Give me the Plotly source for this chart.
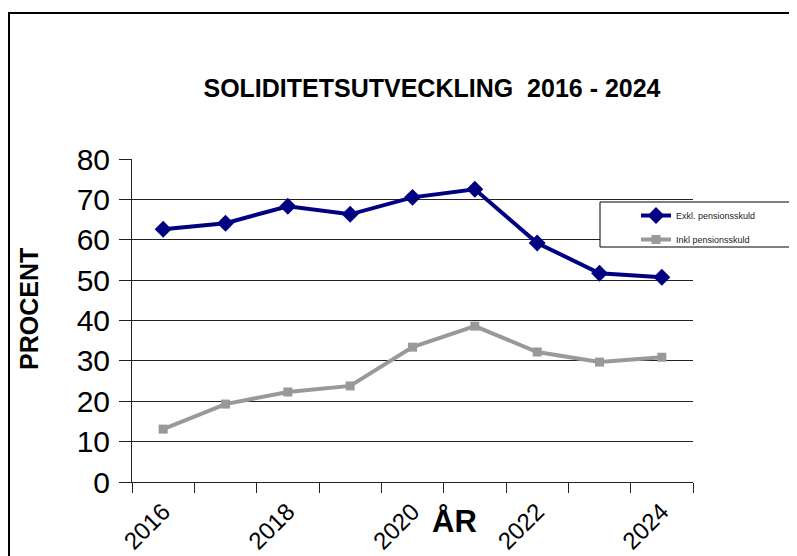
import plotly.graph_objects as go

years = [2016, 2017, 2018, 2019, 2020, 2021, 2022, 2023, 2024]
exkl = [62.6, 64.1, 68.3, 66.3, 70.5, 72.5, 59.2, 51.7, 50.7]
inkl = [13.1, 19.3, 22.3, 23.8, 33.4, 38.6, 32.2, 29.7, 30.9]
label_years = [2016, 2018, 2020, 2022, 2024]
y_ticks = [0, 10, 20, 30, 40, 50, 60, 70, 80]
grid_vals = [10, 20, 30, 40, 50, 60, 70]

OFF = 8  # page body margin
W, H = 797 - OFF, 556 - OFF
PL, PR, PT, PB = 132, 693, 159, 482  # plot area in reference pixels
L, T = PL - OFF, PT - OFF
R, B = W - (PR - OFF), H - (PB - OFF)
pw, ph = PR - PL, PB - PT

def px(x):
    return (x - PL) / pw

def py(y):
    return (PB - y) / ph

fig = go.Figure()
fig.add_trace(go.Scatter(
    x=years, y=exkl, name="Exkl. pensionsskuld", mode="lines+markers",
    legendgroup="a",
    line=dict(color="#000080", width=4),
    marker=dict(symbol="diamond", size=13, color="#000080"),
))
fig.add_trace(go.Scatter(
    x=years, y=inkl, name="Inkl pensionsskuld", mode="lines+markers",
    legendgroup="b",
    line=dict(color="#999999", width=4),
    marker=dict(symbol="square", size=9, color="#999999"),
))

font_fam = "Liberation Sans, Arial, sans-serif"

fig.update_layout(
    width=W, height=H,
    margin=dict(l=L, r=R, t=T, b=B, autoexpand=False),
    paper_bgcolor="white", plot_bgcolor="white",
    showlegend=True,
    title=dict(
        text="<b>SOLIDITETSUTVECKLING  2016 - 2024</b>",
        x=(432 - OFF) / W, xref="container", xanchor="center",
        y=1 - (88 - OFF) / H, yanchor="middle",
        font=dict(family=font_fam, size=25, color="black"),
    ),
    xaxis=dict(
        range=[2015.5, 2024.5], automargin=False,
        tickvals=label_years, ticktext=[str(y) for y in label_years],
        tickangle=-45, ticks="", showgrid=False, zeroline=False,
        showline=True, linecolor="#222222", linewidth=1,
        ticklabelstandoff=5,
        tickfont=dict(family=font_fam, size=24, color="black"),
        minor=dict(tickvals=[y - 0.5 for y in years] + [2024.5], ticks="outside",
                   ticklen=10, tickcolor="#222222", showgrid=False),
    ),
    yaxis=dict(
        range=[0, 80], tickvals=y_ticks, automargin=False,
        ticks="outside", ticklen=12, tickcolor="#222222",
        showgrid=False, ticklabelstandoff=3,
        zeroline=False, showline=True, linecolor="#222222", linewidth=1,
        tickfont=dict(family=font_fam, size=30, color="black"),
        minor=dict(tickvals=grid_vals, ticks="", showgrid=True,
                   gridcolor="#222222", gridwidth=1),
    ),
    legend=dict(
        x=px(636), y=py(201), xanchor="left", yanchor="top",
        bgcolor="rgba(0,0,0,0)", borderwidth=0,
        font=dict(family=font_fam, size=9, color="#222222"),
        tracegroupgap=5,
    ),
    shapes=[
        dict(type="rect", xref="paper", yref="paper",
             x0=px(600), x1=px(830), y0=py(247), y1=py(202),
             line=dict(color="black", width=1), fillcolor="white", layer="above"),
        dict(type="rect", xref="paper", yref="paper",
             x0=px(OFF + 1), x1=px(840), y0=py(600), y1=py(13),
             line=dict(color="black", width=2), fillcolor="rgba(0,0,0,0)", layer="below"),
    ],
    annotations=[
        dict(text="<b>PROCENT</b>", xref="paper", yref="paper",
             x=px(29), y=py(309), textangle=-90, showarrow=False,
             xanchor="center", yanchor="middle",
             font=dict(family=font_fam, size=25, color="black")),
        dict(text="<b>ÅR</b>", xref="paper", yref="paper",
             x=px(454), y=py(521), showarrow=False,
             xanchor="center", yanchor="middle",
             font=dict(family=font_fam, size=31, color="black")),
    ],
)

fig.write_html("out.html")
